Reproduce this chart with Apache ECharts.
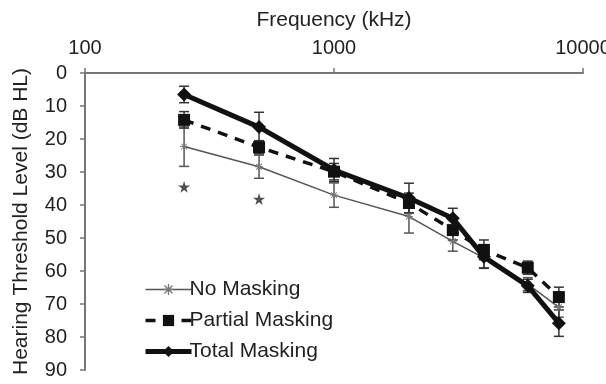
<!DOCTYPE html>
<html>
<head>
<meta charset="utf-8">
<script src="https://cdn.jsdelivr.net/npm/echarts@6/dist/echarts.min.js"></script>
<style>
  html, body { margin: 0; padding: 0; background: #fff; }
  #HearingChart { width: 606px; height: 384px; }
</style>
</head>
<body>
<div id="HearingChart"></div>
<script>
// frequencies (Hz) on the log axis
const freqs = [250, 500, 1000, 2000, 3000, 4000, 6000, 8000];

// thresholds (dB HL)
const noMasking = [22.3, 28.4, 37, 43.5, 51, 56, 64, 71];
const partialMasking = [14.2, 22.5, 29.9, 39.4, 47.6, 53.6, 59, 67.9];
const totalMasking = [6.5, 16.4, 29.4, 37.9, 44, 55.7, 64.5, 75.8];

// standard errors (+/-)
const noMaskingErr = [6, 3.5, 3.7, 5, 3, 3, 2, 3];
const partialMaskingErr = [2.5, 2, 2.5, 3, 3, 3, 2, 3];
const totalMaskingErr = [2.5, 4.5, 3.5, 4.5, 3, 3.5, 2, 4];

// significance markers
const starFreqs = [250, 500];
const starLevels = [34.5, 38.2];

const names = ['No Masking', 'Partial Masking', 'Total Masking'];

const chart = echarts.init(document.getElementById('HearingChart'));

const pairs = (ys) => freqs.map((f, i) => [f, ys[i]]);
const errRows = (ys, es) => freqs.map((f, i) => [f, ys[i] - es[i], ys[i] + es[i]]);

const errorBars = (name, rows, color) => ({
  name: name + ' error',
  type: 'custom',
  data: rows,
  z: 1,
  silent: true,
  renderItem: (params, api) => {
    const top = api.coord([api.value(0), api.value(1)]);
    const bot = api.coord([api.value(0), api.value(2)]);
    const w = 5;
    const style = { stroke: color, lineWidth: 1.5 };
    return {
      type: 'group',
      children: [
        { type: 'line', shape: { x1: top[0], y1: top[1], x2: bot[0], y2: bot[1] }, style: style },
        { type: 'line', shape: { x1: top[0] - w, y1: top[1], x2: top[0] + w, y2: top[1] }, style: style },
        { type: 'line', shape: { x1: bot[0] - w, y1: bot[1], x2: bot[0] + w, y2: bot[1] }, style: style }
      ]
    };
  }
});

const asterisk = 'path://M4.4,0h1.2v10h-1.2z M0,4.4h10v1.2h-10z M1,1.8l0.8,-0.8l7.2,7.2l-0.8,0.8z M8.2,1l0.8,0.8l-7.2,7.2l-0.8,-0.8z';
const star = 'path://M50,0 L61,35 L98,35 L68,57 L79,91 L50,70 L21,91 L32,57 L2,35 L39,35 Z';

let option = {
  animation: false,
  textStyle: { fontFamily: 'Liberation Sans, Arial, sans-serif' },
  grid: { left: 85, right: 23, top: 73, bottom: 14, outerBoundsMode: 'none' },
  legend: {
    data: [
      { name: names[0], lineStyle: { width: 1.5 } },
      { name: names[1], lineStyle: { width: 3.5 } },
      { name: names[2], lineStyle: { width: 5 } }
    ],
    orient: 'vertical',
    left: 138,
    top: 274,
    itemWidth: 46,
    itemHeight: 14,
    itemGap: 10,
    textStyle: { fontSize: 21, color: '#222', padding: [0, 0, 0, -7] }
  },
  xAxis: {
    type: 'log',
    logBase: 10,
    min: 100,
    max: 10000,
    position: 'top',
    name: 'Frequency (kHz)',
    nameLocation: 'middle',
    nameGap: 42,
    nameTextStyle: { fontSize: 21, color: '#222' },
    axisLine: { lineStyle: { color: '#777', width: 2 } },
    axisTick: { show: true, length: 5, lineStyle: { color: '#777', width: 1.5 } },
    axisLabel: { fontSize: 20, color: '#222', margin: 15, formatter: (v) => String(v) },
    splitLine: { show: false },
    minorTick: { show: false }
  },
  yAxis: {
    type: 'value',
    inverse: true,
    min: 0,
    max: 90,
    interval: 10,
    name: 'Hearing Threshold Level (dB HL)',
    nameLocation: 'middle',
    nameGap: 53,
    nameRotate: 90,
    nameTextStyle: { fontSize: 21, color: '#222' },
    axisLine: { show: true, lineStyle: { color: '#777', width: 2 } },
    axisTick: { show: true, length: 5, lineStyle: { color: '#777', width: 1.5 } },
    axisLabel: { fontSize: 20, color: '#222', margin: 18 },
    splitLine: { show: false }
  },
  series: [
    errorBars('No Masking', errRows(noMasking, noMaskingErr), '#555'),
    errorBars('Partial Masking', errRows(partialMasking, partialMaskingErr), '#333'),
    errorBars('Total Masking', errRows(totalMasking, totalMaskingErr), '#333'),
    {
      name: 'No Masking',
      type: 'line',
      data: pairs(noMasking),
      symbol: asterisk,
      symbolSize: 8,
      lineStyle: { color: '#555', width: 1.5 },
      itemStyle: { color: '#777' },
      z: 2
    },
    {
      name: 'Partial Masking',
      type: 'line',
      data: pairs(partialMasking),
      symbol: 'rect',
      symbolSize: 12,
      lineStyle: { color: '#111', width: 3.5, type: [10, 8] },
      itemStyle: { color: '#111' },
      z: 3
    },
    {
      name: 'Total Masking',
      type: 'line',
      data: pairs(totalMasking),
      symbol: 'diamond',
      symbolSize: 14,
      lineStyle: { color: '#111', width: 5 },
      itemStyle: { color: '#111' },
      z: 4
    },
    {
      name: 'significance',
      type: 'scatter',
      data: starFreqs.map((f, i) => [f, starLevels[i]]),
      symbol: star,
      symbolSize: 12,
      itemStyle: { color: '#222' },
      z: 5
    }
  ]
};

chart.setOption(option);
</script>
</body>
</html>
